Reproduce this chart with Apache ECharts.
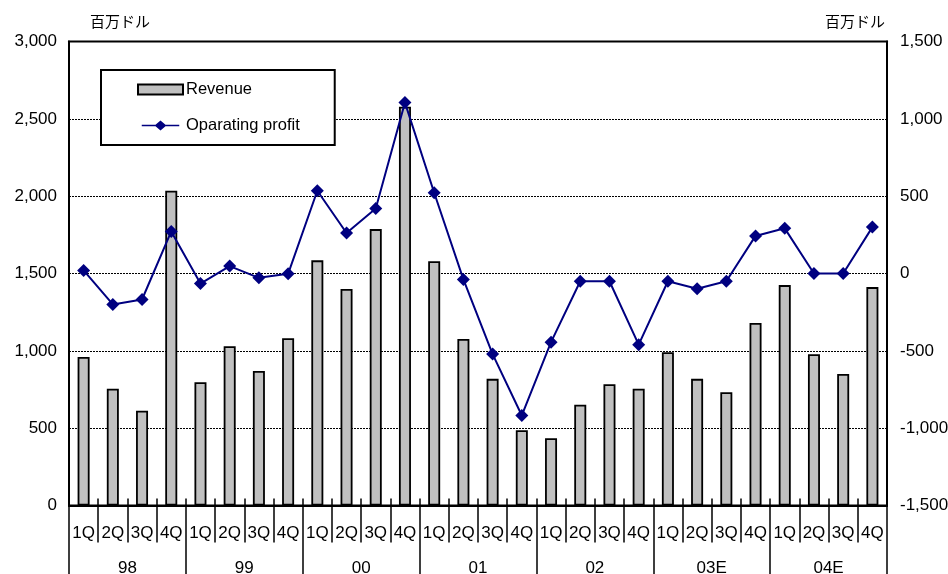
<!DOCTYPE html>
<html>
<head>
<meta charset="utf-8">
<script src="https://cdn.jsdelivr.net/npm/echarts@6/dist/echarts.min.js"></script>
<style>
  html, body { margin: 0; padding: 0; background: #fff; }
  #chart { width: 948px; height: 574px; }
</style>
</head>
<body>
<div id="chart"></div>
<script>
// Quarterly revenue (bars, left axis) and operating profit (line, right axis), million USD
const years = ['98', '99', '00', '01', '02', '03E', '04E'];
const quarters = ['1Q', '2Q', '3Q', '4Q'];
const categories = [];
years.forEach(function () { quarters.forEach(function (q) { categories.push(q); }); });

const revenue = [960, 755, 613, 2035, 797, 1030, 870, 1082, 1585, 1400, 1787, 2578,
  1580, 1077, 819, 487, 435, 651, 784, 755, 991, 819, 733, 1180, 1425, 978, 850, 1412];
const operatingProfit = [20, -200, -168, 272, -65, 48, -28, -2, 535, 262, 420, 1105,
  522, -38, -521, -918, -444, -50, -50, -460, -50, -98, -50, 243, 292, 0, 0, 300];

const unitLabel = '百万ドル';
const font = 'Liberation Sans, Arial, sans-serif';

// legend icon for the profit line: a horizontal stroke with a diamond in the middle
const lineDiamondIcon = 'path://M0,5 L16.5,5 L22.5,0 L28.5,5 L45,5 L45,7 L28.5,7 L22.5,12 L16.5,7 L0,7 Z';

function fmt(v) {
  return v.toLocaleString('en-US');
}

const chart = echarts.init(document.getElementById('chart'), null, { renderer: 'canvas' });

chart.setOption({
  backgroundColor: '#fff',
  animation: false,
  textStyle: { fontFamily: font, color: '#000' },
  grid: {
    left: 69, right: 61, top: 41.5, bottom: 68.5,
    containLabel: false,
    outerBoundsMode: 'none',
    show: true, borderColor: '#000', borderWidth: 2, backgroundColor: 'transparent'
  },
  legend: {
    orient: 'vertical',
    left: 101, top: 70,
    padding: [11, 35, 11, 36],
    itemWidth: 45, itemHeight: 10, itemGap: 19,
    backgroundColor: '#fff',
    borderColor: '#000', borderWidth: 2, borderRadius: 0,
    textStyle: { fontSize: 16.5, fontFamily: font, color: '#000', padding: [0, 0, 0, -2] },
    data: [
      { name: 'Revenue', icon: 'rect' },
      { name: 'Oparating profit', icon: lineDiamondIcon }
    ]
  },
  xAxis: [
    {
      type: 'category',
      data: categories,
      position: 'bottom',
      axisLine: { show: true, onZero: false, lineStyle: { color: '#000', width: 2 } },
      axisTick: { show: true, interval: 0, length: 37, lineStyle: { color: '#000', width: 1.5 } },
      axisLabel: { interval: 0, margin: 19, fontSize: 17, color: '#000', fontFamily: font },
      splitLine: { show: false }
    },
    {
      type: 'category',
      data: years,
      position: 'bottom',
      axisLine: { show: false, onZero: false },
      axisTick: { show: true, interval: 0, length: 72, lineStyle: { color: '#000', width: 1.5 } },
      axisLabel: { interval: 0, margin: 54, fontSize: 17, color: '#000', fontFamily: font },
      splitLine: { show: false }
    },
    {
      // short tick marks crossing the baseline upward
      type: 'category',
      data: categories,
      position: 'bottom',
      axisLine: { show: false, onZero: false },
      axisTick: { show: true, inside: true, interval: 0, length: 7, lineStyle: { color: '#000', width: 1.5 } },
      axisLabel: { show: false },
      splitLine: { show: false }
    }
  ],
  yAxis: [
    {
      type: 'value',
      min: 0, max: 3000, interval: 500,
      name: unitLabel,
      nameLocation: 'end',
      nameGap: 13,
      nameTextStyle: { fontSize: 15, color: '#000', align: 'left', padding: [0, 0, 0, 21], fontFamily: 'Noto Sans CJK JP' },
      axisLine: { show: true, lineStyle: { color: '#000', width: 2 } },
      axisTick: { show: false },
      axisLabel: { margin: 12, fontSize: 17, color: '#000', fontFamily: font, formatter: fmt },
      splitLine: { show: true, lineStyle: { color: '#000', width: 1, type: [2, 1] } }
    },
    {
      type: 'value',
      min: -1500, max: 1500, interval: 500,
      name: unitLabel,
      nameLocation: 'end',
      nameGap: 13,
      nameTextStyle: { fontSize: 15, color: '#000', align: 'right', padding: [0, 2, 0, 0], fontFamily: 'Noto Sans CJK JP' },
      axisLine: { show: true, lineStyle: { color: '#000', width: 2 } },
      axisTick: { show: false },
      axisLabel: { margin: 13, fontSize: 17, color: '#000', fontFamily: font, formatter: fmt },
      splitLine: { show: false }
    }
  ],
  series: [
    {
      name: 'Revenue',
      type: 'bar',
      xAxisIndex: 0,
      yAxisIndex: 0,
      data: revenue,
      barWidth: 12,
      itemStyle: { color: '#c0c0c0', borderColor: '#000', borderWidth: 1.8 },
      z: 2
    },
    {
      name: 'Oparating profit',
      type: 'line',
      xAxisIndex: 0,
      yAxisIndex: 1,
      data: operatingProfit,
      symbol: 'diamond',
      symbolSize: [13, 13],
      lineStyle: { color: '#000080', width: 2 },
      itemStyle: { color: '#000080' },
      z: 3
    }
  ]
});
</script>
</body>
</html>
